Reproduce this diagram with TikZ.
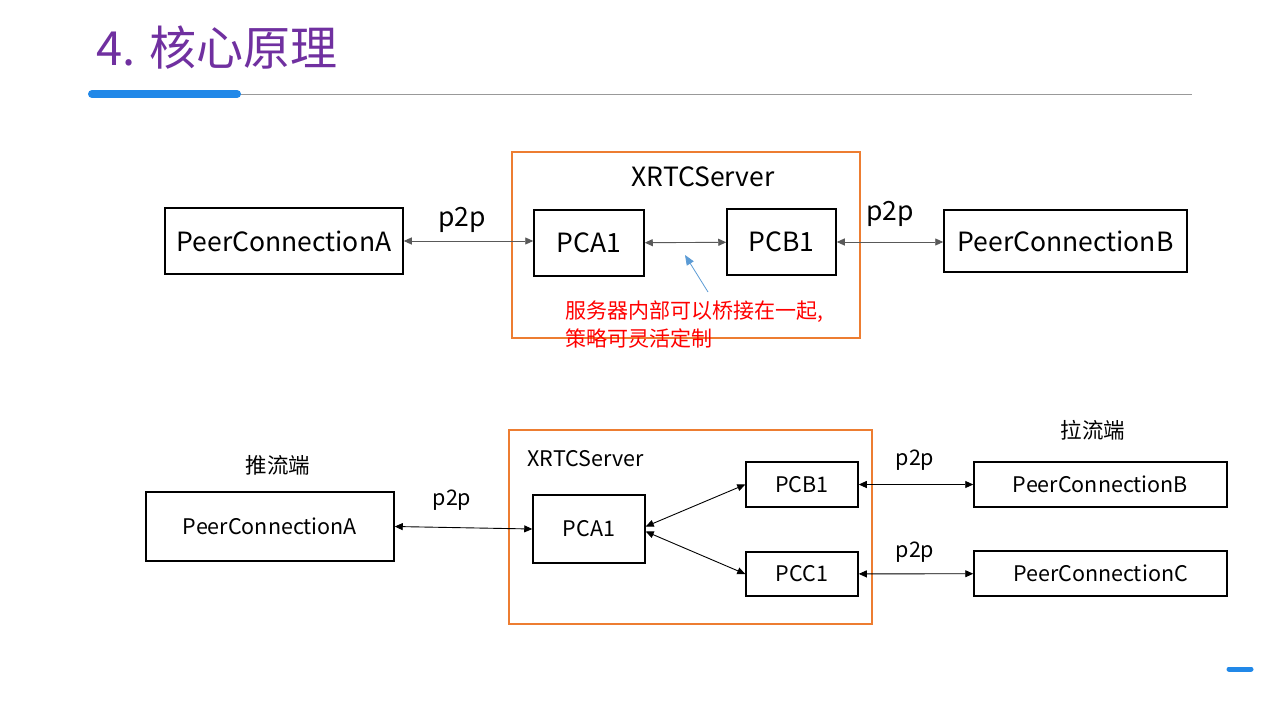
\documentclass[tikz,border=0pt]{standalone}
\usepackage{fontspec}
\setmainfont{Noto Sans CJK SC}
\usetikzlibrary{arrows.meta}
\definecolor{titlepurple}{RGB}{112,48,160}
\definecolor{barblue}{RGB}{33,136,232}
\definecolor{srvorange}{RGB}{237,125,49}
\definecolor{noteblue}{RGB}{91,155,213}
\tikzset{
  pcbox/.style={draw,line width=1.5pt,inner sep=0pt},
  bigtxt/.style={font=\fontsize{26.5}{30}\selectfont},
  smalltxt/.style={font=\fontsize{21.5}{25}\selectfont},
  link/.style={{Triangle[length=8pt,width=7pt]}-{Triangle[length=8pt,width=7pt]},line width=0.9pt},
}

\begin{document}
\begin{tikzpicture}[x=1pt,y=-1pt]
	  \useasboundingbox[fill=white] (0,0) rectangle (1280,720);
	  % title
	  \node[anchor=west,text=titlepurple,font=\fontsize{47}{52}\selectfont] (title) at (93,48) {4. 核心原理};
	  \draw[gray!80,line width=0.8pt] (240,94) -- (1192,94);
	  \draw[barblue,line width=8pt,line cap=round] (92,94) -- (237,94);
	  \draw[barblue,line width=5pt,line cap=round] (1229,669) -- (1251,669);
	  % top: bridged inside server
	  \draw[srvorange,line width=1.3pt] (512,152) rectangle (860,338);
	  \node[bigtxt] (srv1) at (703,177) {XRTCServer};
	  \node[pcbox,bigtxt,minimum width=238,minimum height=66] (pcA) at (284,241) {PeerConnectionA};
	  \node[pcbox,bigtxt,minimum width=110,minimum height=66] (pca1) at (589,243) {PCA1};
	  \node[pcbox,bigtxt,minimum width=109,minimum height=66] (pcb1) at (781.5,242) {PCB1};
	  \node[pcbox,bigtxt,minimum width=243,minimum height=62] (pcB) at (1065.5,241) {PeerConnectionB};
	  \draw[link,black!65] (pcA.east) -- (pca1.west|-pcA.east);
	  \draw[link,black!65] (pca1) -- (pcb1);
	  \draw[link,black!65] (pcb1.east) -- (pcB.west|-pcb1.east);
	  \node[bigtxt] (lab1) at (462,220) {p2p};
	  \node[bigtxt] (lab2) at (890,214) {p2p};
	  \node[font=\fontsize{21}{28}\selectfont,text=red,anchor=west,align=left,inner sep=0pt] (note) at (565,325)
	    {服务器内部可以桥接在一起,\\策略可灵活定制};
	  \coordinate (tail) at (708,292);
	  \coordinate (tip) at (685,255);
	  \draw[noteblue,-{Triangle[length=10pt,width=8pt]},line width=0.8pt] (tail) -- (tip);
	  % bottom: one pusher, many pullers
	  \draw[srvorange,line width=1.3pt] (509,430) rectangle (872,624);
	  \node[smalltxt,anchor=west] (srv2) at (524,459) {XRTCServer};
	  \node[smalltxt] (push) at (278,465) {推流端};
	  \node[smalltxt] (pull) at (1093,430) {拉流端};
	  \node[pcbox,smalltxt,minimum width=248,minimum height=69] (qA) at (270,526.5) {PeerConnectionA};
	  \node[pcbox,smalltxt,minimum width=112,minimum height=68] (qa1) at (589,529) {PCA1};
	  \node[pcbox,smalltxt,minimum width=112,minimum height=45] (qb1) at (802,484.5) {PCB1};
	  \node[pcbox,smalltxt,minimum width=112,minimum height=44] (qc1) at (802,574) {PCC1};
	  \node[pcbox,smalltxt,minimum width=253,minimum height=45] (qB) at (1100.5,484.5) {PeerConnectionB};
	  \node[pcbox,smalltxt,minimum width=253,minimum height=45] (qC) at (1100.5,573.5) {PeerConnectionC};
	  \draw[link] (qA.east) -- (qa1.west);
	  \draw[link] ([yshift=2.5pt]qa1.east) -- (qb1.west);
	  \draw[link] ([yshift=-2.5pt]qa1.east) -- (qc1.west);
	  \draw[link] (qb1) -- (qB);
	  \draw[link] (qc1) -- (qC);
	  \node[smalltxt] (lab3) at (452,500) {p2p};
	  \node[smalltxt] (lab4) at (915,460) {p2p};
	  \node[smalltxt] (lab5) at (915,552) {p2p};
	\end{tikzpicture}
\end{document}
